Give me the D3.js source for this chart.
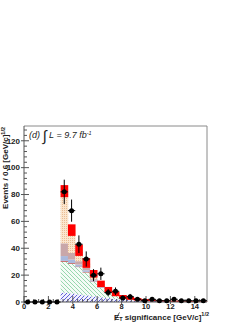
<!DOCTYPE html>
<html>
<head>
<meta charset="utf-8">
<script src="https://cdn.jsdelivr.net/npm/d3@7"></script>
<style>
  html, body { margin: 0; padding: 0; background: #fff; }
  svg { display: block; }
  text { font-family: "Liberation Sans", Arial, sans-serif; }
</style>
</head>
<body>
<svg id="chart" width="249" height="323"></svg>
<script>
// data bins (0.6 wide) over the full range
const dataLow = [0, 0.6, 1.2, 1.8, 2.4, 3.0, 3.6, 4.2, 4.8, 5.4, 6.0, 6.6, 7.2, 7.8, 8.4, 9.0, 9.6, 10.2, 10.8, 11.4, 12.0, 12.6, 13.2, 13.8, 14.4];
const dataCounts = [0, 0, 0, 0, 0, 82, 68, 43, 32, 20, 21, 7, 8, 3, 4, 2, 1, 2, 1, 1, 2, 1, 1, 1, 1];

// MC bins start at the 3.0 cut
const mcLow = [3.0, 3.6, 4.2, 4.8, 5.4, 6.0, 6.6, 7.2, 7.8, 8.4, 9.0, 9.6, 10.2, 10.8, 11.4, 12.0, 12.6, 13.2, 13.8, 14.4];
// stack components, bottom to top
const bkgBlueHatch  = [7.0, 6.3, 5.6, 4.9, 4.2, 3.5, 2.9, 2.4, 1.9, 1.5, 1.2, 0.9, 0.7, 0.6, 0.5, 0.4, 0.3, 0.25, 0.2, 0.15];
const bkgGreenHatch = [23.0, 22.2, 20.4, 17.1, 10.8, 7.0, 4.1, 2.1, 1.1, 0.5, 0.3, 0.2, 0.15, 0.1, 0.1, 0.05, 0.05, 0.05, 0, 0];
const bkgDarkRed    = [0.6, 0.5, 0.4, 0.4, 0.3, 0.2, 0.15, 0.1, 0.1, 0.05, 0.05, 0, 0, 0, 0, 0, 0, 0, 0, 0];
const bkgLightBlue  = [3.6, 2.6, 1.5, 1.2, 0.8, 0.6, 0.4, 0.3, 0.2, 0.1, 0.1, 0.05, 0.05, 0, 0, 0, 0, 0, 0, 0];
const bkgMauve      = [9.5, 5.0, 2.5, 1.8, 0.9, 0.6, 0.4, 0.3, 0.2, 0.1, 0.05, 0.05, 0.05, 0, 0, 0, 0, 0, 0, 0];
const bkgBeige      = [38.8, 16.9, 8.1, 3.6, 4.0, 1.6, 1.25, 0.8, 0.3, 0.45, 0.3, 0.3, 0.25, 0.2, 0.1, 0.15, 0.15, 0.1, 0.1, 0.15];
// total prediction uncertainty band
const mcTotal = [82.5, 53.5, 38.5, 29, 21, 13.5, 9.2, 6, 3.8, 2.7, 2, 1.5, 1.2, 0.9, 0.7, 0.6, 0.5, 0.4, 0.3, 0.3];
const mcErr   = [4.5, 4.3, 4.2, 3.6, 2.8, 2.4, 2.0, 1.7, 1.4, 1.1, 0.9, 0.7, 0.6, 0.5, 0.4, 0.4, 0.3, 0.3, 0.2, 0.2];

const binWidth = 0.6;
const xTicks = [0, 2, 4, 6, 8, 10, 12, 14];
const yTicks = [0, 20, 40, 60, 80, 100, 120];

const svg = d3.select('#chart');
const x = d3.scaleLinear().domain([0, 15]).range([24, 207]);
const y = d3.scaleLinear().domain([0, 131]).range([302, 126]);

// fill patterns
const defs = svg.append('defs');
const hatch = (id, bg, col, d) => {
  const p = defs.append('pattern').attr('id', id)
    .attr('patternUnits', 'userSpaceOnUse').attr('width', 4).attr('height', 4);
  p.append('rect').attr('width', 4).attr('height', 4).attr('fill', bg);
  p.append('path').attr('d', d).attr('stroke', col).attr('stroke-width', 0.9).attr('fill', 'none');
};
hatch('blueHatch', '#f0f0ff', '#5050d0', 'M-1,1 l2,-2 M0,4 l4,-4 M3,5 l2,-2');
hatch('greenHatch', '#f4fbf6', '#8cd3a6', 'M-1,3 l2,2 M0,0 l4,4 M3,-1 l2,2');
const dots = defs.append('pattern').attr('id', 'beigeDots')
  .attr('patternUnits', 'userSpaceOnUse').attr('width', 2).attr('height', 2);
dots.append('rect').attr('width', 2).attr('height', 2).attr('fill', '#fbe6ce');
dots.append('rect').attr('width', 1).attr('height', 1).attr('fill', '#e9bd96');

const layers = [
  { vals: bkgBlueHatch, fill: 'url(#blueHatch)' },
  { vals: bkgGreenHatch, fill: 'url(#greenHatch)' },
  { vals: bkgDarkRed, fill: '#b83a3a' },
  { vals: bkgLightBlue, fill: '#aab9dd' },
  { vals: bkgMauve, fill: '#c9a7a9' },
  { vals: bkgBeige, fill: 'url(#beigeDots)' },
];

// stacked histogram
const stackG = svg.append('g');
const base = mcLow.map(() => 0);
layers.forEach((layer) => {
  const rows = mcLow.map((lo, i) => {
    const r = { lo, y0: base[i], y1: base[i] + layer.vals[i] };
    base[i] = r.y1;
    return r;
  });
  stackG.append('g').selectAll('rect').data(rows).join('rect')
    .attr('x', (d) => x(d.lo))
    .attr('width', (d) => x(d.lo + binWidth) - x(d.lo) + 0.3)
    .attr('y', (d) => y(d.y1))
    .attr('height', (d) => Math.max(0, y(d.y0) - y(d.y1)))
    .attr('fill', layer.fill);
});

// uncertainty band
svg.append('g').selectAll('rect')
  .data(mcLow.map((lo, i) => ({ lo, t: mcTotal[i], e: mcErr[i] })))
  .join('rect')
  .attr('x', (d) => x(d.lo))
  .attr('width', (d) => x(d.lo + binWidth) - x(d.lo) + 0.3)
  .attr('y', (d) => y(d.t + d.e))
  .attr('height', (d) => y(d.t - d.e) - y(d.t + d.e))
  .attr('fill', '#ff0000');

// frame
svg.append('path')
  .attr('d', `M${x(0)},${y(131)}H${x(15)}V${y(0)}`)
  .attr('fill', 'none').attr('stroke', '#8a8a8a').attr('stroke-width', 1);

// axes
const axisG = svg.append('g').attr('stroke', '#555').attr('stroke-width', 1);
axisG.append('line').attr('x1', x(0)).attr('x2', x(0)).attr('y1', y(0)).attr('y2', y(131));
axisG.append('line').attr('x1', x(0)).attr('x2', x(15)).attr('y1', y(0)).attr('y2', y(0));

d3.range(0, 131, 4).forEach((v) => {
  const major = v % 20 === 0;
  axisG.append('line')
    .attr('x1', x(0) - (major ? 3 : 0)).attr('x2', x(0) + (major ? 5 : 3))
    .attr('y1', y(v)).attr('y2', y(v));
});
d3.range(0, 15.01, 0.4).forEach((v) => {
  const major = Math.abs(v / 2 - Math.round(v / 2)) < 1e-6;
  axisG.append('line')
    .attr('x1', x(v)).attr('x2', x(v))
    .attr('y1', y(0) + (major ? 2 : 0)).attr('y2', y(0) - (major ? 6 : 3));
});

svg.append('g').selectAll('text').data(yTicks).join('text')
  .attr('x', x(0) - 4).attr('y', (d) => y(d)).attr('dy', '0.35em')
  .attr('text-anchor', 'end').attr('font-size', 8).attr('font-weight', 'bold').attr('fill', '#222')
  .text((d) => d);
svg.append('g').selectAll('text').data(xTicks).join('text')
  .attr('x', (d) => x(d)).attr('y', y(0) + 6.5)
  .attr('text-anchor', 'middle').attr('font-size', 7.5).attr('font-weight', 'bold').attr('fill', '#222')
  .text((d) => d);

// data points with errors
const pts = dataLow.map((lo, i) => ({ c: lo + binWidth / 2, n: dataCounts[i], e: Math.sqrt(dataCounts[i]) }));
const dataG = svg.append('g');
dataG.selectAll('line.v').data(pts.filter((d) => d.n > 0)).join('line')
  .attr('x1', (d) => x(d.c)).attr('x2', (d) => x(d.c))
  .attr('y1', (d) => y(d.n + d.e)).attr('y2', (d) => y(Math.max(0, d.n - d.e)))
  .attr('stroke', '#000').attr('stroke-width', 1);
dataG.selectAll('line.h').data(pts).join('line')
  .attr('x1', (d) => x(d.c - binWidth / 2)).attr('x2', (d) => x(d.c + binWidth / 2))
  .attr('y1', (d) => y(d.n)).attr('y2', (d) => y(d.n))
  .attr('stroke', '#000').attr('stroke-width', 1);
dataG.selectAll('circle').data(pts).join('circle')
  .attr('cx', (d) => x(d.c)).attr('cy', (d) => y(d.n)).attr('r', 2.5)
  .attr('fill', '#000');

// x title
const xt = svg.append('text')
  .attr('x', 209).attr('y', 319.5).attr('text-anchor', 'end')
  .attr('font-size', 8).attr('font-weight', 'bold').attr('fill', '#222');
xt.append('tspan').text('E');
xt.append('tspan').attr('dy', 1.5).attr('font-size', 5.5).text('T');
xt.append('tspan').attr('dy', -1.5).text(' significance [GeV/c]');
xt.append('tspan').attr('dy', -3.5).attr('font-size', 5.5).text('1/2');
const ePos = xt.node().getStartPositionOfChar(0);
svg.append('line')
  .attr('x1', ePos.x + 1).attr('x2', ePos.x + 5.5)
  .attr('y1', 320.5).attr('y2', 312.5)
  .attr('stroke', '#222').attr('stroke-width', 0.8);

// y title
const yt = svg.append('text')
  .attr('transform', 'translate(8,127) rotate(-90)').attr('text-anchor', 'end')
  .attr('font-size', 8).attr('font-weight', 'bold').attr('fill', '#222');
yt.append('tspan').text('Events / 0.6 [GeV/c]');
yt.append('tspan').attr('dy', -3.5).attr('font-size', 5.5).text('1/2');

// luminosity label
const lab = svg.append('text')
  .attr('x', 29).attr('y', 138)
  .attr('font-family', '"Liberation Serif", "DejaVu Serif", serif')
  .attr('font-style', 'italic').attr('font-size', 9).attr('fill', '#222');
lab.append('tspan').text('(d) ');
lab.append('tspan').attr('font-size', 15).attr('dy', 3).text('\u222B');
lab.append('tspan').attr('dy', -3).text(' L = 9.7 fb');
lab.append('tspan').attr('dy', -3.5).attr('font-size', 5.5).text('-1');
</script>
</body>
</html>
